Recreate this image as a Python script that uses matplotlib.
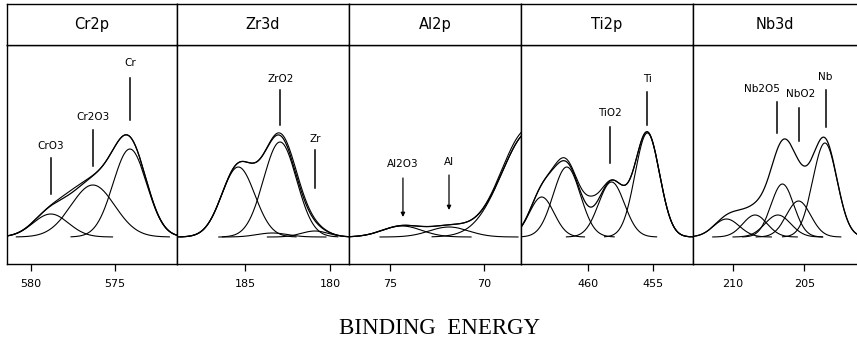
import numpy as np
import matplotlib
matplotlib.use("Agg")
import matplotlib.pyplot as plt

# fitted components per panel: (binding energy eV, height, sigma eV)
cr_peaks = [(578.8, 23, 1.05), (576.3, 52, 1.3), (574.1, 88, 1.0)]
zr_peaks = [(185.4, 70, 0.97), (182.95, 95, 0.97), (183.4, 4, 0.9), (180.9, 6, 0.8)]
al_peaks = [(74.38, 11, 1.05), (71.88, 10, 1.05), (67.57, 106, 1.49)]
ti_peaks = [(463.6, 40, 0.95), (461.66, 70, 1.05), (458.2, 55, 1.0), (455.43, 104, 0.95)]
nb_peaks = [(210.45, 18, 0.9), (208.45, 22, 0.85), (206.85, 22, 0.9),
            (206.53, 53, 0.8), (205.4, 36, 0.85), (203.55, 94, 0.85)]

# background left under the envelope (not drawn as a component)
cr_bg = []
zr_bg = []
al_bg = []
ti_bg = []
nb_bg = [(206.0, 7, 1.5), (209.6, 6, 0.7)]

# where the measured spectrum leaves the fitted envelope
cr_meas = [(577.6, 3, 0.7)]
zr_meas = [(182.0, 4, 0.9)]
al_meas = [(68.4, 4, 0.9)]
ti_meas = [(459.8, 11, 0.6), (462.0, 3, 0.6)]
nb_meas = []

titles = ["Cr2p", "Zr3d", "Al2p", "Ti2p", "Nb3d"]
ticks = [[580, 575], [185, 180], [75, 70], [460, 455], [210, 205]]
xlims = [(581.4, 571.3), (189.0, 178.9), (77.2, 68.05), (465.2, 451.9), (212.8, 201.3)]

# labels: text, line x, line top, line bottom, text x, text y
cr_labels = [("Cr", 574.1, 159, 117, 574.1, 174),
             ("Cr2O3", 576.3, 107, 71, 576.3, 120),
             ("CrO3", 578.8, 79, 43, 578.8, 91)]
zr_labels = [("ZrO2", 182.94, 147, 112, 182.94, 158),
             ("Zr", 180.88, 87, 49, 180.88, 98)]
al_labels = [("Al2O3", 74.33, 59, 20, 74.33, 73),
             ("Al", 71.88, 62, 27, 71.88, 75)]
ti_labels = [("Ti", 455.43, 145, 112, 455.43, 158),
             ("TiO2", 458.35, 110, 74, 458.35, 124)]
nb_labels = [("Nb2O5", 206.9, 135, 104, 208.0, 148),
             ("NbO2", 205.4, 129, 96, 205.26, 143),
             ("Nb", 203.5, 147, 110, 203.5, 160)]

panels = [
    (cr_peaks, cr_bg, cr_meas, cr_labels),
    (zr_peaks, zr_bg, zr_meas, zr_labels),
    (al_peaks, al_bg, al_meas, al_labels),
    (ti_peaks, ti_bg, ti_meas, ti_labels),
    (nb_peaks, nb_bg, nb_meas, nb_labels),
]


def gauss(x, c, h, s):
    return h * np.exp(-0.5 * ((x - c) / s) ** 2)


def somme(x, liste):
    y = np.zeros_like(x)
    for c, h, s in liste:
        y += gauss(x, c, h, s)
    return y


W, H = 857, 343
edges = [7, 177, 349, 521, 693, 857]
fig = plt.figure(figsize=(W / 100, H / 100), dpi=100)

for i, (peaks, bg, meas, labels) in enumerate(panels):
    left = edges[i] / W
    width = (edges[i + 1] - edges[i]) / W
    ax = fig.add_axes([left, 79 / H, width, 219 / H])
    hd = fig.add_axes([left, (H - 45) / H, width, 41 / H])

    lo, hi = sorted(xlims[i])
    x = np.linspace(lo, hi, 800)

    # components, drawn only around their centre
    for c, h, s in peaks:
        xc = x[(x > c - 3.5 * s) & (x < c + 3.5 * s)]
        ax.plot(xc, gauss(xc, c, h, s), color="k", lw=0.8)

    fit = somme(x, peaks) + somme(x, bg)
    ax.plot(x, fit, color="k", lw=0.9)
    if meas:
        ax.plot(x, fit + somme(x, meas), color="k", lw=0.8)

    for txt, xl, y0, y1, xt, yt in labels:
        if i == 2:
            ax.annotate("", xy=(xl, y1), xytext=(xl, y0),
                        arrowprops=dict(arrowstyle="-|>", lw=0.9, color="k",
                                        mutation_scale=6, shrinkA=0, shrinkB=0))
        else:
            ax.plot([xl, xl], [y0, y1], color="k", lw=1.1)
        ax.text(xt, yt, txt, ha="center", va="center", fontsize=7.5)

    ax.set_xlim(xlims[i])
    ax.set_ylim(-27, 192)
    ax.set_xticks(ticks[i])
    ax.set_yticks([])
    ax.tick_params(axis="x", direction="out", length=5, width=0.9,
                   labelsize=8, pad=6)

    hd.set_xticks([])
    hd.set_yticks([])
    hd.text(0.5, 0.5, titles[i], ha="center", va="center", fontsize=10.5,
            transform=hd.transAxes)

    for a in (ax, hd):
        for sp in a.spines.values():
            sp.set_linewidth(1.0)
        if i == 4:
            a.spines["right"].set_visible(False)

fig.text(439.5 / W, 1 - 329 / H, "BINDING  ENERGY", family="Liberation Serif",
         fontsize=16.5, ha="center", va="center")

plt.savefig("out.png", dpi=100)
